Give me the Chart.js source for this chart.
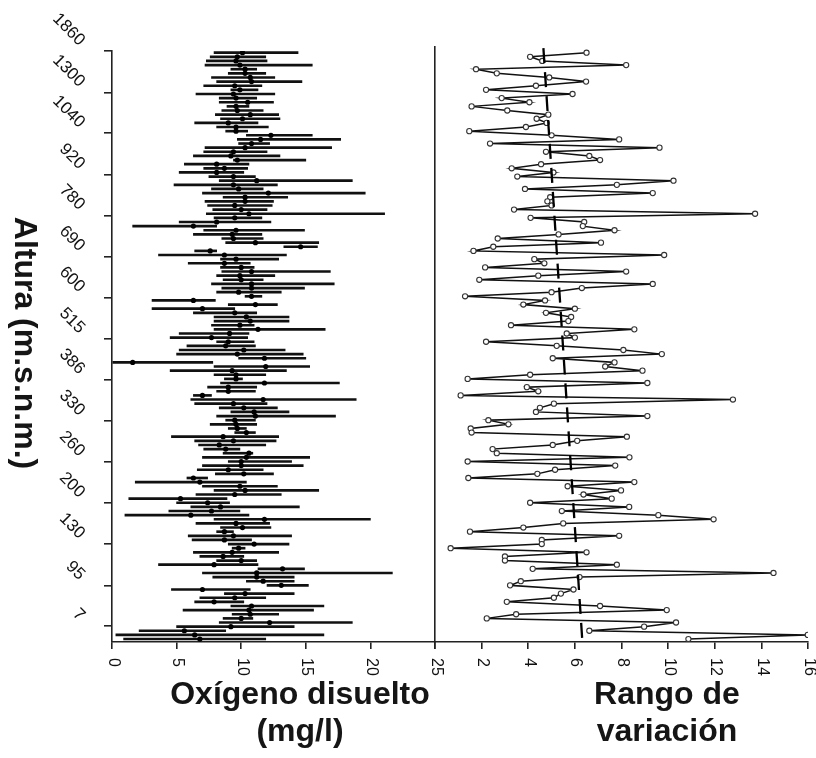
<!DOCTYPE html>
<html>
<head>
<meta charset="utf-8">
<script src="https://cdn.jsdelivr.net/npm/chart.js@4.4.1/dist/chart.umd.min.js"></script>
<style>
  html, body { margin: 0; padding: 0; background: #ffffff; }
  #wrap { position: relative; width: 816px; height: 758px; overflow: hidden; }
  #wrap canvas { position: absolute; left: 0; top: 0; }
  .ttl { position: absolute; font-family: "Liberation Sans", Arial, sans-serif; font-weight: bold;
         font-size: 32px; line-height: 37px; color: #151515; text-align: center; white-space: nowrap; }
</style>
</head>
<body>
<div id="wrap">
  <canvas id="left" width="816" height="758"></canvas>
  <canvas id="right" width="816" height="758"></canvas>
  <div class="ttl" style="left:100px; top:675px; width:400px;">Oxígeno disuelto<br>(mg/l)</div>
  <div class="ttl" style="left:467px; top:675px; width:400px;">Rango de<br>variación</div>
  <div class="ttl" style="left:-124px; top:327px; width:300px; height:32px; line-height:32px; transform: rotate(90deg);">Altura (m.s.n.m.)</div>
</div>
<script>
// ---- tick labels (altitude, m.s.n.m.) and the rows where they sit ----
const altitudeLabels = ['1860','1300','1040','920','780','690','600','515','386','330','260','200','130','95','7'];
const altitudeTickRows = [-0.41, 9.6, 19.5, 29.5, 39.4, 49.4, 59.3, 69.3, 79.2, 89.2, 99.1, 109.1, 119.0, 129.0, 138.9];
const oxygenTicks = [0, 5, 10, 15, 20, 25];
const rangeTicks = [2, 4, 6, 8, 10, 12, 14, 16];

// ---- left panel: dissolved oxygen (mg/l) per sampling row, top to bottom ----
const oxMin = [7.9,7.6,7.3,7.2,9.2,9.0,7.7,8.1,7.1,9.2,
  6.5,8.3,8.3,8.9,8.5,8.0,8.4,6.4,8.1,8.8,
  10.4,9.7,9.8,7.2,7.1,6.3,9.4,5.6,7.1,5.2,
  7.5,8.3,4.8,7.7,7.0,8.6,7.2,7.4,7.8,7.3,
  7.9,5.2,1.6,7.1,6.3,8.5,8.8,13.3,6.4,3.6,
  8.4,5.9,8.4,8.5,8.1,8.6,7.7,8.5,8.1,10.3,
  3.1,9.0,3.1,6.3,7.9,7.9,7.7,7.9,5.2,4.5,
  8.1,5.8,5.2,5.0,9.8,0.0,7.9,4.5,7.9,8.7,
  8.4,7.4,8.1,6.3,6.1,6.4,8.3,9.2,8.1,8.8,
  7.6,9.0,9.5,4.6,6.4,6.7,7.1,8.6,7.0,9.0,
  7.0,6.6,8.0,5.8,1.8,7.0,7.9,6.5,1.3,5.0,
  6.1,4.4,1.0,7.9,6.5,8.4,8.1,5.9,6.2,9.0,
  9.3,6.3,6.8,8.1,3.6,11.3,7.0,7.8,10.4,12.0,
  4.6,8.7,6.8,6.4,9.2,5.5,9.3,8.6,8.3,5.0,
  2.1,0.3,0.9];
const oxMax = [14.4,11.9,12.0,15.5,11.2,11.9,12.6,14.7,11.6,11.3,
  12.6,11.2,12.5,10.6,11.7,12.9,13.0,11.3,12.1,10.5,
  15.5,17.7,12.2,17.0,12.0,13.0,15.0,10.6,10.5,10.2,
  11.1,18.6,12.8,11.7,19.6,13.6,12.5,12.4,12.0,21.1,
  11.6,12.3,8.1,14.9,11.6,11.7,16.0,15.9,8.1,13.5,
  12.9,10.7,11.0,16.9,12.6,11.7,17.2,14.9,13.1,11.6,
  8.0,12.8,9.5,11.2,13.7,13.7,11.0,16.5,10.6,10.5,
  11.0,11.1,13.4,14.8,15.0,7.8,15.3,13.5,11.9,10.1,
  17.6,11.2,11.1,7.7,18.9,12.0,12.8,13.7,17.3,11.1,
  11.2,10.4,11.1,12.9,12.7,11.9,9.9,10.9,15.3,13.9,
  14.8,11.7,12.5,7.4,10.4,12.8,16.0,13.1,8.9,9.1,
  14.5,9.9,10.6,20.0,12.2,12.3,9.4,13.9,10.8,13.7,
  10.3,12.9,10.2,11.2,11.3,14.9,21.7,14.1,14.1,15.2,
  10.7,14.1,11.9,10.2,16.4,15.6,12.9,10.9,18.6,14.1,
  8.8,16.4,11.9];
const oxMean = [10.1,9.7,9.6,9.9,10.3,10.3,10.7,10.8,9.5,9.9,
  9.4,9.6,10.5,9.6,9.7,10.7,10.1,9.0,9.6,9.6,
  12.3,11.5,10.8,10.3,9.4,9.2,9.7,8.1,8.7,8.1,
  9.4,11.2,9.4,9.8,12.1,10.3,10.3,9.5,10.0,10.6,
  9.5,8.1,6.3,9.6,9.3,9.4,11.1,14.6,7.6,8.7,
  9.6,8.7,10.0,10.8,9.9,10.0,10.8,10.8,9.8,10.8,
  6.3,11.1,7.0,9.5,10.4,10.7,9.9,11.3,9.1,7.7,
  9.0,8.8,10.2,9.7,11.8,1.6,11.9,9.3,9.6,9.6,
  11.8,9.0,9.0,7.0,11.7,9.4,10.2,11.0,11.1,9.5,
  9.6,9.7,10.4,8.6,9.4,8.3,8.8,10.6,10.4,10.0,
  10.0,9.0,10.2,6.3,6.8,9.9,10.3,9.5,5.3,7.4,
  8.4,7.7,6.1,11.8,9.6,10.1,8.7,9.4,8.7,11.0,
  9.8,9.3,8.6,10.0,7.9,13.2,11.2,11.2,11.7,13.1,
  7.0,10.3,9.5,7.9,10.8,10.6,10.7,10.0,12.2,9.2,
  5.6,6.4,6.8];

// ---- right panel: range of variation per row ----
const rangeVals = [6.5,4.08,4.6,8.2,1.76,2.65,4.9,6.48,4.33,2.19,
  5.9,2.86,4.05,1.57,3.1,4.86,4.36,4.79,3.9,1.47,
  5.0,7.9,2.36,9.63,4.76,6.62,7.08,4.55,3.29,5.08,
  3.53,10.23,7.8,3.86,9.34,4.94,4.82,5.0,3.39,13.73,
  4.1,6.4,6.34,7.7,5.3,2.69,7.12,2.5,1.65,9.83,
  4.26,4.69,2.15,8.2,4.43,1.9,9.34,6.3,5.0,1.29,
  4.72,3.79,6.0,4.76,5.84,5.72,3.26,8.55,5.65,6.0,
  2.19,5.22,8.08,9.73,5.05,7.7,7.3,8.9,4.08,1.4,
  9.11,3.94,4.43,1.1,12.78,5.1,4.5,4.33,9.11,2.29,
  3.15,1.53,1.57,8.23,6.1,5.05,2.47,2.65,8.34,1.4,
  7.73,5.15,4.39,1.43,8.55,5.69,7.98,6.37,7.58,4.08,
  8.33,5.44,9.58,11.95,5.5,3.79,1.5,7.9,4.58,4.58,
  0.67,6.5,3.0,3.0,7.8,4.19,14.52,6.2,3.68,3.22,
  5.94,5.4,5.1,3.08,7.08,9.94,3.48,2.22,10.34,8.97,
  6.62,15.99,10.87];
// dashed trend of the range (top and bottom ends)
const trendX = [4.65, 6.32];
const trendRow = [-1.1, 142.5];

const rows = oxMin.map((_, i) => i);
const INK = '#111111';
const AXIS = '#222222';
const FONT = '"Liberation Sans", Arial, sans-serif';

const tickLabelPlugin = {
  id: 'tickLabels',
  afterDraw(chart, args, opts) {
    const ctx = chart.ctx;
    ctx.save();
    ctx.fillStyle = '#111111';
    const xs = chart.scales.x;
    ctx.font = '16px ' + FONT;
    (opts.xLabels || []).forEach(v => {
      const px = xs.getPixelForValue(v);
      ctx.save();
      ctx.translate(px + 1, xs.top + 16);
      ctx.rotate(Math.PI / 2);
      ctx.textAlign = 'left';
      ctx.textBaseline = 'middle';
      ctx.fillText(String(v), 0, 0);
      ctx.restore();
    });
    if (opts.yLabels) {
      const ys = chart.scales.y;
      ctx.font = '17px ' + FONT;
      opts.yRows.forEach((r, i) => {
        const py = ys.getPixelForValue(r);
        ctx.save();
        ctx.translate(ys.right - 30, py - 8);
        ctx.rotate(Math.PI / 4);
        ctx.textAlign = 'right';
        ctx.textBaseline = 'middle';
        ctx.fillText(opts.yLabels[i], 0, 0);
        ctx.restore();
      });
    }
    ctx.restore();
  }
};

Chart.defaults.font.family = FONT;

new Chart(document.getElementById('left'), {
  type: 'bar',
  data: {
    datasets: [
      {
        type: 'bar',
        indexAxis: 'y',
        data: rows.map(i => ({ y: i, x: [oxMin[i], oxMax[i]] })),
        backgroundColor: INK,
        borderWidth: 0,
        barThickness: 2,
        order: 2
      },
      {
        type: 'scatter',
        data: rows.map(i => ({ x: oxMean[i], y: i })),
        pointRadius: 2.6,
        pointBackgroundColor: '#000',
        pointBorderColor: '#000',
        pointBorderWidth: 0,
        order: 1
      }
    ]
  },
  options: {
    indexAxis: 'y',
    responsive: false,
    animation: false,
    devicePixelRatio: 1,
    layout: { padding: { left: 104, top: 51, right: 381, bottom: 109 } },
    plugins: {
      legend: { display: false },
      tooltip: { enabled: false },
      tickLabels: { xLabels: oxygenTicks, yLabels: altitudeLabels, yRows: altitudeTickRows }
    },
    scales: {
      x: {
        type: 'linear', position: 'bottom', min: 0, max: 25, bounds: 'data', offset: false,
        afterBuildTicks: s => { s.ticks = oxygenTicks.map(v => ({ value: v })); },
        ticks: { display: false },
        grid: { display: true, offset: false, drawOnChartArea: false, drawTicks: true, tickLength: 7, color: AXIS, lineWidth: 1.6 },
        border: { display: true, color: AXIS, width: 1.6 }
      },
      y: {
        type: 'linear', position: 'left', reverse: true, min: -0.41, max: 142.72, bounds: 'data', offset: false,
        afterBuildTicks: s => { s.ticks = altitudeTickRows.map(v => ({ value: v })); },
        ticks: { display: false },
        grid: { display: true, offset: false, drawOnChartArea: false, drawTicks: true, tickLength: 8, color: AXIS, lineWidth: 1.6 },
        border: { display: true, color: AXIS, width: 1.6 }
      }
    }
  },
  plugins: [tickLabelPlugin]
});

new Chart(document.getElementById('right'), {
  type: 'scatter',
  data: {
    datasets: [
      {
        data: rows.map(i => ({ x: rangeVals[i], y: i })),
        showLine: true,
        borderColor: INK,
        borderWidth: 1.5,
        pointRadius: 2.6,
        pointBackgroundColor: '#ffffff',
        pointBorderColor: '#333333',
        pointBorderWidth: 1.1,
        order: 2
      },
      {
        data: trendX.map((v, i) => ({ x: v, y: trendRow[i] })),
        showLine: true,
        borderColor: '#000',
        borderWidth: 2.3,
        borderDash: [15, 9],
        pointRadius: 0,
        order: 1
      }
    ]
  },
  options: {
    responsive: false,
    animation: false,
    devicePixelRatio: 1,
    layout: { padding: { left: 435, top: 47, right: 8, bottom: 109 } },
    plugins: {
      legend: { display: false },
      tooltip: { enabled: false },
      tickLabels: { xLabels: rangeTicks }
    },
    scales: {
      x: {
        type: 'linear', position: 'bottom', min: 0, max: 16, bounds: 'data', offset: false,
        afterBuildTicks: s => { s.ticks = [0].concat(rangeTicks).map(v => ({ value: v })); },
        ticks: { display: false },
        grid: { display: true, offset: false, drawOnChartArea: false, drawTicks: true, tickLength: 7, color: AXIS, lineWidth: 1.6 },
        border: { display: true, color: AXIS, width: 1.6 }
      },
      y: {
        type: 'linear', position: 'left', reverse: true, min: -1.38, max: 142.72, bounds: 'data', offset: false,
        ticks: { display: false },
        grid: { display: false, drawTicks: false },
        border: { display: true, color: AXIS, width: 1.6 }
      }
    }
  },
  plugins: [tickLabelPlugin]
});
</script>
</body>
</html>
